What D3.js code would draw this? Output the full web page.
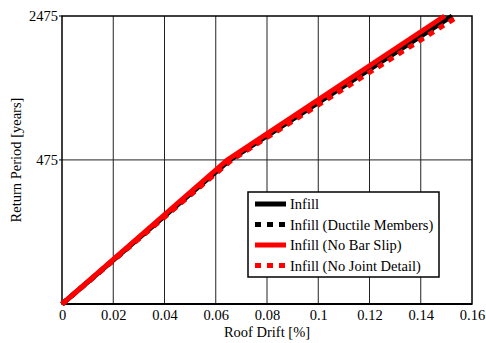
<!DOCTYPE html>
<html>
<head>
<meta charset="utf-8">
<script src="https://cdn.jsdelivr.net/npm/d3@7"></script>
<style>
  html, body { margin: 0; padding: 0; background: #fff; }
  svg { display: block; }
</style>
</head>
<body>
<svg id="chart" width="486" height="343"></svg>
<script>
// Hazard levels (return period, years): 50%, 10% and 2% in 50 years
const returnPeriods = [72, 475, 2475];

// Peak roof drift [%] reached at each hazard level
const infill          = [0, 0.0655, 0.1522];
const infillDuctile   = [0, 0.0660, 0.1530];
const infillNoBarSlip = [0, 0.0645, 0.1493];
const infillNoJoint   = [0, 0.0662, 0.1547];

const seriesNames  = ["Infill", "Infill (Ductile Members)", "Infill (No Bar Slip)", "Infill (No Joint Detail)"];
const seriesValues = [infill, infillDuctile, infillNoBarSlip, infillNoJoint];
const seriesColors = ["#000000", "#000000", "#ff0000", "#ff0000"];
const seriesDashed = [false, true, false, true];

const xTicks = [0, 0.02, 0.04, 0.06, 0.08, 0.1, 0.12, 0.14, 0.16];
const yTicks = [475, 2475];

(function () {
  const FONT = "'Liberation Serif'";
  const svg = d3.select("#chart");
  const pL = 62, pR = 472, pT = 16, pB = 304;

  const x = d3.scaleLinear().domain([0, 0.16]).range([pL, pR]);
  // Vertical position follows the log of the probability of exceedance in 50 years
  const yProb = d3.scaleLog().domain([0.5, 0.02]).range([pB, pT]);
  const pExceed = T => 1 - Math.exp(-50 / T);
  const y = T => yProb(pExceed(T));

  const label = sel => sel.style("font-family", FONT).style("font-size", "14.5px").attr("fill", "#000");

  // grid
  const grid = svg.append("g");
  grid.selectAll("line.vx").data(xTicks.slice(1, -1)).join("line")
    .attr("class", "vx")
    .attr("x1", d => x(d)).attr("x2", d => x(d))
    .attr("y1", pT).attr("y2", pB)
    .attr("stroke", "#222").attr("stroke-width", 1);
  grid.selectAll("line.hy").data([475]).join("line")
    .attr("class", "hy")
    .attr("x1", pL).attr("x2", pR)
    .attr("y1", d => y(d)).attr("y2", d => y(d))
    .attr("stroke", "#222").attr("stroke-width", 1);

  // x axis
  const xAxis = d3.axisBottom(x).tickValues(xTicks)
    .tickFormat(d => d3.format("~g")(d)).tickSize(0).tickPadding(6);
  const gx = svg.append("g").attr("transform", `translate(0,${pB})`).call(xAxis);
  gx.select(".domain").remove();
  gx.attr("font-family", null).attr("font-size", null);
  gx.selectAll("text").call(label);

  // y axis labels
  const gy = svg.append("g");
  gy.selectAll("text").data(yTicks).join("text")
    .attr("x", pL - 4).attr("y", d => y(d)).attr("dy", "0.35em")
    .attr("text-anchor", "end").text(d => d).call(label);
  gy.selectAll("line").data(yTicks).join("line")
    .attr("x1", pL - 3).attr("x2", pL).attr("y1", d => y(d)).attr("y2", d => y(d))
    .attr("stroke", "#000").attr("stroke-width", 1);

  // frame
  svg.append("rect").attr("x", pL).attr("y", pT)
    .attr("width", pR - pL).attr("height", pB - pT)
    .attr("fill", "none").attr("stroke", "#000").attr("stroke-width", 1.5);
  svg.append("line").attr("x1", pL).attr("x2", pR).attr("y1", pB).attr("y2", pB)
    .attr("stroke", "#000").attr("stroke-width", 2);

  // curves
  const line = d3.line().x(d => x(d[0])).y(d => y(d[1]));
  seriesValues.forEach((vals, i) => {
    const pts = vals.map((v, j) => [v, returnPeriods[j]]);
    svg.append("path").datum(pts)
      .attr("d", line)
      .attr("fill", "none")
      .attr("stroke", seriesColors[i])
      .attr("stroke-width", 5)
      .attr("stroke-dasharray", seriesDashed[i] ? "6,6" : null)
      .attr("stroke-linejoin", "miter");
  });

  // axis titles
  svg.append("text").attr("x", (pL + pR) / 2).attr("y", 337)
    .attr("text-anchor", "middle").text("Roof Drift [%]").call(label);
  svg.append("text").attr("transform", `translate(21,${(pT + pB) / 2}) rotate(-90)`)
    .attr("text-anchor", "middle").text("Return Period [years]").call(label);

  // legend
  const lg = svg.append("g");
  lg.append("rect").attr("x", 248).attr("y", 192).attr("width", 191).attr("height", 85)
    .attr("fill", "#fff").attr("stroke", "#000").attr("stroke-width", 1.5);
  seriesNames.forEach((name, i) => {
    const ly = 204 + i * 20.5;
    lg.append("line").attr("x1", 255).attr("x2", 286).attr("y1", ly).attr("y2", ly)
      .attr("stroke", seriesColors[i]).attr("stroke-width", 5)
      .attr("stroke-dasharray", seriesDashed[i] ? "6,6" : null);
    lg.append("text").attr("x", 290).attr("y", ly).attr("dy", "0.35em")
      .text(name).call(label);
  });
})();
</script>
</body>
</html>
